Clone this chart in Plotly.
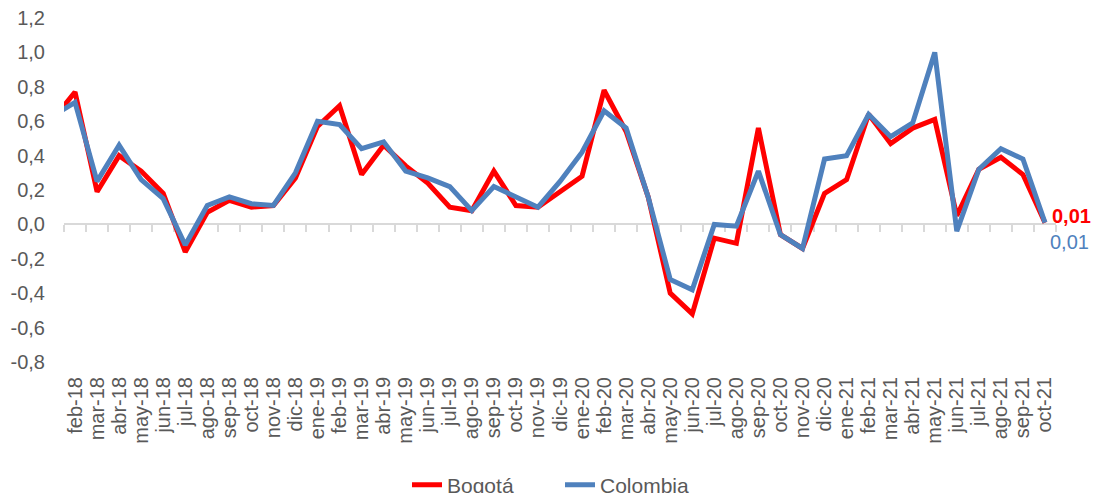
import plotly.graph_objects as go

months = ["ene-18", "feb-18", "mar-18", "abr-18", "may-18", "jun-18", "jul-18", "ago-18", "sep-18",
          "oct-18", "nov-18", "dic-18", "ene-19", "feb-19", "mar-19", "abr-19", "may-19", "jun-19",
          "jul-19", "ago-19", "sep-19", "oct-19", "nov-19", "dic-19", "ene-20", "feb-20", "mar-20",
          "abr-20", "may-20", "jun-20", "jul-20", "ago-20", "sep-20", "oct-20", "nov-20", "dic-20",
          "ene-21", "feb-21", "mar-21", "abr-21", "may-21", "jun-21", "jul-21", "ago-21", "sep-21",
          "oct-21"]

bogota = [0.61, 0.77, 0.19, 0.40, 0.31, 0.18, -0.16, 0.07, 0.14, 0.10, 0.11, 0.27, 0.57, 0.69,
          0.29, 0.46, 0.34, 0.24, 0.10, 0.08, 0.31, 0.11, 0.10, 0.19, 0.28, 0.78, 0.54, 0.16,
          -0.40, -0.52, -0.08, -0.11, 0.56, -0.06, -0.14, 0.18, 0.26, 0.64, 0.47, 0.56, 0.61,
          0.05, 0.32, 0.39, 0.29, 0.01]

colombia = [0.63, 0.71, 0.25, 0.46, 0.26, 0.15, -0.12, 0.11, 0.16, 0.12, 0.11, 0.30, 0.60, 0.58,
            0.44, 0.48, 0.31, 0.27, 0.22, 0.08, 0.22, 0.16, 0.10, 0.25, 0.42, 0.66, 0.56, 0.16,
            -0.32, -0.38, 0.00, -0.01, 0.31, -0.06, -0.14, 0.38, 0.40, 0.64, 0.51, 0.59, 1.00,
            -0.04, 0.32, 0.44, 0.38, 0.01]

y_ticks = [-0.8, -0.6, -0.4, -0.2, 0.0, 0.2, 0.4, 0.6, 0.8, 1.0, 1.2]
y_tick_labels = ["-0,8", "-0,6", "-0,4", "-0,2", "0,0", "0,2", "0,4", "0,6", "0,8", "1,0", "1,2"]

idx = list(range(len(months)))
FONT = "Liberation Sans, Arial, sans-serif"
GRAY = "#595959"
RED = "#FF0000"
BLUE = "#4F81BD"

y_min, y_max = y_ticks[0], y_ticks[-1]
x_range = [0.5, len(months) - 0.5]
zero_pos = (0 - y_min) / (y_max - y_min)

fig = go.Figure()
# empty trace so the label axis (x) gets drawn
fig.add_trace(go.Scatter(x=[None], y=[None], mode="lines", xaxis="x", yaxis="y",
                         showlegend=False, hoverinfo="skip"))
fig.add_trace(go.Scatter(x=idx, y=bogota, name="Bogotá", mode="lines",
                         line=dict(color=RED, width=5), xaxis="x2", yaxis="y"))
fig.add_trace(go.Scatter(x=idx, y=colombia, name="Colombia", mode="lines",
                         line=dict(color=BLUE, width=5), xaxis="x2", yaxis="y"))

def fmt(v):
    return f"{v:.2f}".replace(".", ",")

fig.add_annotation(x=idx[-1], y=bogota[-1], xref="x2", yref="y", text="<b>" + fmt(bogota[-1]) + "</b>",
                   showarrow=False, xanchor="left", yanchor="middle", xshift=5, yshift=7,
                   font=dict(family=FONT, size=20, color=RED))
fig.add_annotation(x=idx[-1], y=colombia[-1], xref="x2", yref="y", text=fmt(colombia[-1]),
                   showarrow=False, xanchor="left", yanchor="middle", xshift=3, yshift=-19,
                   font=dict(family=FONT, size=20, color=BLUE))

fig.update_layout(
    width=1093, height=493,
    margin=dict(l=64, r=37, t=18, b=131, autoexpand=False),
    paper_bgcolor="white", plot_bgcolor="white",
    font=dict(family=FONT, color=GRAY, size=20),
    xaxis=dict(type="linear", range=x_range, tickmode="array", tickvals=idx, ticktext=months,
               tickangle=-90, ticks="", showline=False, showgrid=False, zeroline=False,
               ticklabelstandoff=10, tickfont=dict(family=FONT, size=20, color=GRAY)),
    xaxis2=dict(type="linear", range=x_range, overlaying="x", anchor="free", position=zero_pos,
                tickmode="linear", tick0=0.5, dtick=1, ticks="outside", ticklen=7, tickwidth=1.5,
                tickcolor="#D9D9D9", showline=True, linecolor="#D9D9D9", linewidth=2,
                showticklabels=False, showgrid=False, zeroline=False, layer="below traces"),
    yaxis=dict(range=[y_min, y_max], tickmode="array", tickvals=y_ticks, ticktext=y_tick_labels,
               showgrid=False, zeroline=False, showline=False, ticks="",
               ticklabelstandoff=18, tickfont=dict(family=FONT, size=20, color=GRAY)),
    legend=dict(orientation="h", x=0.5, xanchor="center", xref="paper",
                y=0.016, yanchor="middle", yref="container",
                entrywidth=108, entrywidthmode="pixels",
                font=dict(family=FONT, size=21, color=GRAY), bgcolor="rgba(0,0,0,0)"),
    showlegend=True,
)

fig.write_html("out.html", config={"displayModeBar": False},
               post_script="document.body.style.margin='0px';document.body.style.overflow='hidden';")
